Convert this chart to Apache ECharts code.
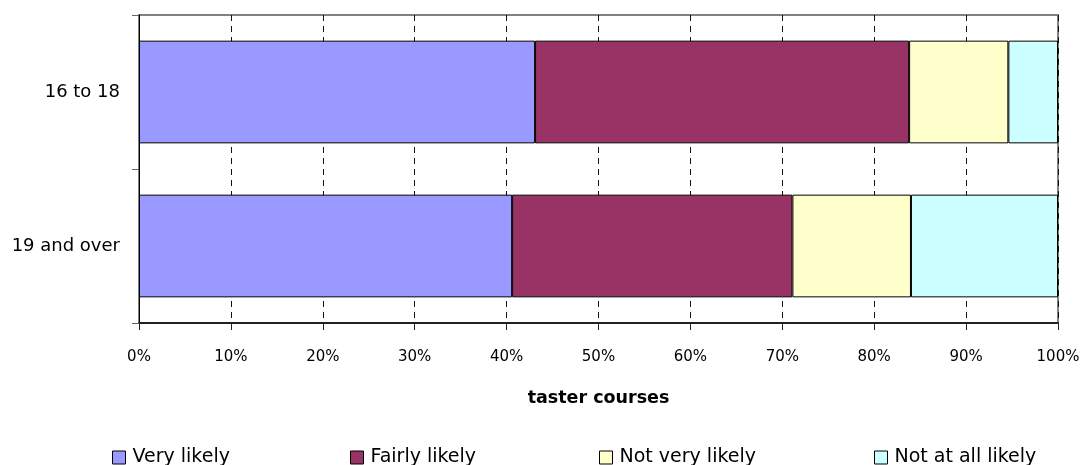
<!DOCTYPE html>
<html>
<head>
<meta charset="utf-8">
<script src="https://cdn.jsdelivr.net/npm/echarts@6/dist/echarts.min.js"></script>
<style>
  html, body { margin: 0; padding: 0; background: #fff; }
  #chart { width: 1083px; height: 465px; }
</style>
</head>
<body>
<div id="chart"></div>
<script>
// Likelihood of taking up taster courses, by age group (percent of respondents)
const ageGroups = ['16 to 18', '19 and over'];
const seriesNames = ['Very likely', 'Fairly likely', 'Not very likely', 'Not at all likely'];
const veryLikely = [43.1, 40.6];
const fairlyLikely = [40.7, 30.5];
const notVeryLikely = [10.8, 12.9];
const notAtAllLikely = [5.4, 16.0];
const percentTicks = ['0%', '10%', '20%', '30%', '40%', '50%', '60%', '70%', '80%', '90%', '100%'];
const axisTitle = 'taster courses';

const FONT = '"DejaVu Sans", Verdana, sans-serif';
const colors = ['#9999FF', '#993366', '#FFFFCC', '#CCFFFF'];
const values = [veryLikely, fairlyLikely, notVeryLikely, notAtAllLikely];

const series = seriesNames.map((name, i) => ({
  name: name,
  type: 'bar',
  stack: 'total',
  barCategoryGap: '33.3%',
  data: values[i],
  itemStyle: { color: colors[i], borderColor: '#000', borderWidth: 1 },
  emphasis: { disabled: true }
}));

// one legend per entry so each sits at its own column
const legendLefts = [107, 345, 594, 869];
const legends = seriesNames.map((name, i) => ({
  data: [name],
  left: legendLefts[i],
  top: 443,
  orient: 'horizontal',
  icon: 'rect',
  itemWidth: 13,
  itemHeight: 13,
  itemStyle: { borderColor: '#000', borderWidth: 1 },
  selectedMode: false,
  textStyle: { fontFamily: FONT, fontSize: 19, color: '#000', padding: [0, 0, 0, 2] }
}));

const chart = echarts.init(document.getElementById('chart'), null, { renderer: 'canvas' });
chart.setOption({
  animation: false,
  color: colors,
  grid: {
    left: 139, right: 25, top: 15, bottom: 142,
    show: true, borderColor: '#808080', borderWidth: 2, backgroundColor: 'transparent'
  },
  legend: legends,
  xAxis: {
    type: 'value',
    min: 0, max: 100, interval: 10,
    name: axisTitle,
    nameLocation: 'middle',
    nameGap: 66,
    nameTextStyle: { fontFamily: FONT, fontSize: 17.5, fontWeight: 'bold', color: '#000' },
    axisLine: { show: true, lineStyle: { color: '#222', width: 2 } },
    axisTick: { show: true, length: 7, lineStyle: { color: '#222', width: 1 } },
    axisLabel: {
      margin: 27,
      fontFamily: FONT, fontSize: 15, color: '#000',
      formatter: (v) => percentTicks[Math.round(v / 10)]
    },
    splitLine: { show: true, lineStyle: { color: '#111', width: 1, type: [6, 5] } }
  },
  yAxis: {
    type: 'category',
    data: ageGroups,
    inverse: true,
    axisLine: { show: true, lineStyle: { color: '#000', width: 1 } },
    axisTick: { show: true, length: 7, lineStyle: { color: '#666', width: 1 } },
    axisLabel: { margin: 19, fontFamily: FONT, fontSize: 18, color: '#000' },
    splitLine: { show: false }
  },
  series: series
});
</script>
</body>
</html>
